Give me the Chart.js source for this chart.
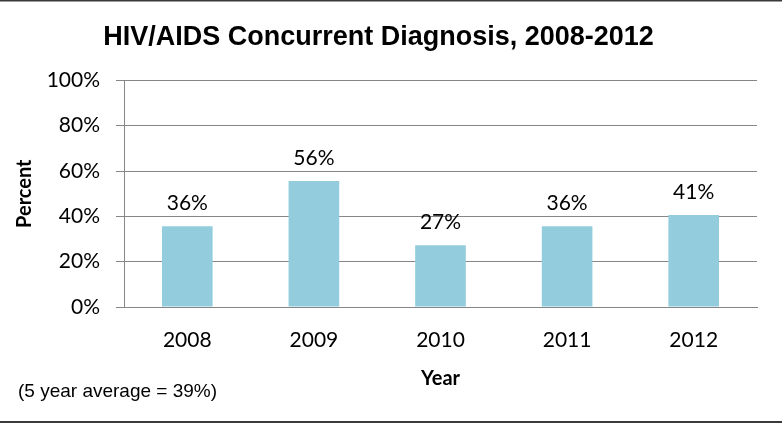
<!DOCTYPE html>
<html>
<head>
<meta charset="utf-8">
<script src="https://cdn.jsdelivr.net/npm/chart.js@4/dist/chart.umd.min.js"></script>
<style>
  html, body { margin: 0; padding: 0; background: #fff; }
  canvas { display: block; }
</style>
</head>
<body>
<canvas id="c" width="782" height="425"></canvas>
<script>
const chartTitle = 'HIV/AIDS Concurrent Diagnosis, 2008-2012';
const footnote = '(5 year average = 39%)';
const years = ['2008', '2009', '2010', '2011', '2012'];
const percents = [35.6, 55.6, 27.3, 35.6, 40.6];
const pctLabels = ['36%', '56%', '27%', '36%', '41%'];
const yTickValues = [0, 20, 40, 60, 80, 100];

const tickFont = { family: 'Lato', size: 21 };
const boldFont = { family: 'Lato', size: 20, weight: 'bold' };
const gridColor = '#868686';

const framePlugin = {
  id: 'frame',
  beforeDraw(chart) {
    const ctx = chart.ctx;
    ctx.save();
    ctx.fillStyle = '#ffffff';
    ctx.fillRect(0, 0, chart.width, chart.height);
    ctx.fillStyle = '#3a3a3a';
    ctx.fillRect(0, 0, chart.width, 1.5);
    ctx.fillRect(0, chart.height - 4, chart.width, 2);
    ctx.restore();
  },
  afterDraw(chart) {
    const ctx = chart.ctx;
    ctx.save();
    ctx.fillStyle = '#000';
    ctx.font = '19px "Liberation Sans", Arial, sans-serif';
    ctx.textAlign = 'left';
    ctx.textBaseline = 'middle';
    ctx.fillText(footnote, 18, 392);
    ctx.restore();
  }
};

const valueLabelPlugin = {
  id: 'valueLabels',
  afterDatasetsDraw(chart) {
    const ctx = chart.ctx;
    const meta = chart.getDatasetMeta(0);
    ctx.save();
    ctx.fillStyle = '#000';
    ctx.font = '21px Lato, sans-serif';
    ctx.textAlign = 'center';
    ctx.textBaseline = 'middle';
    meta.data.forEach((bar, i) => {
      ctx.fillText(pctLabels[i], bar.x, bar.y - 23);
    });
    ctx.restore();
  }
};

new Chart(document.getElementById('c'), {
  type: 'bar',
  data: {
    labels: years,
    datasets: [{
      data: percents,
      backgroundColor: '#93CDDD',
      borderWidth: 0,
      barPercentage: 0.4,
      categoryPercentage: 1.0
    }]
  },
  options: {
    responsive: false,
    devicePixelRatio: 1,
    animation: false,
    layout: { padding: { left: 0, right: 25, top: 0, bottom: 30 } },
    plugins: {
      legend: { display: false },
      tooltip: { enabled: false },
      title: {
        display: true,
        text: chartTitle,
        color: '#000',
        font: { family: 'Liberation Sans', size: 27, weight: 'bold' },
        padding: { top: 21, bottom: 27 }
      }
    },
    scales: {
      x: {
        grid: { display: false },
        border: { display: true, color: gridColor, width: 1 },
        ticks: { color: '#000', font: tickFont, padding: 13, maxRotation: 0 },
        title: { display: true, text: 'Year', color: '#000', font: boldFont, padding: { top: 0, bottom: 4 } },
        afterFit(s) { s.height = 88; }
      },
      y: {
        min: 0,
        max: 100,
        afterBuildTicks(s) { s.ticks = yTickValues.map(v => ({ value: v })); },
        grid: { color: gridColor, lineWidth: 1, drawTicks: true, tickLength: 8 },
        border: { display: true, color: gridColor, width: 1 },
        ticks: { color: '#000', font: tickFont, padding: 16, callback: v => v + '%' },
        title: { display: true, text: 'Percent', color: '#000', font: boldFont, padding: { top: 13, bottom: 0 } },
        afterFit(s) { s.width = 124; }
      }
    }
  },
  plugins: [framePlugin, valueLabelPlugin]
});
</script>
</body>
</html>
